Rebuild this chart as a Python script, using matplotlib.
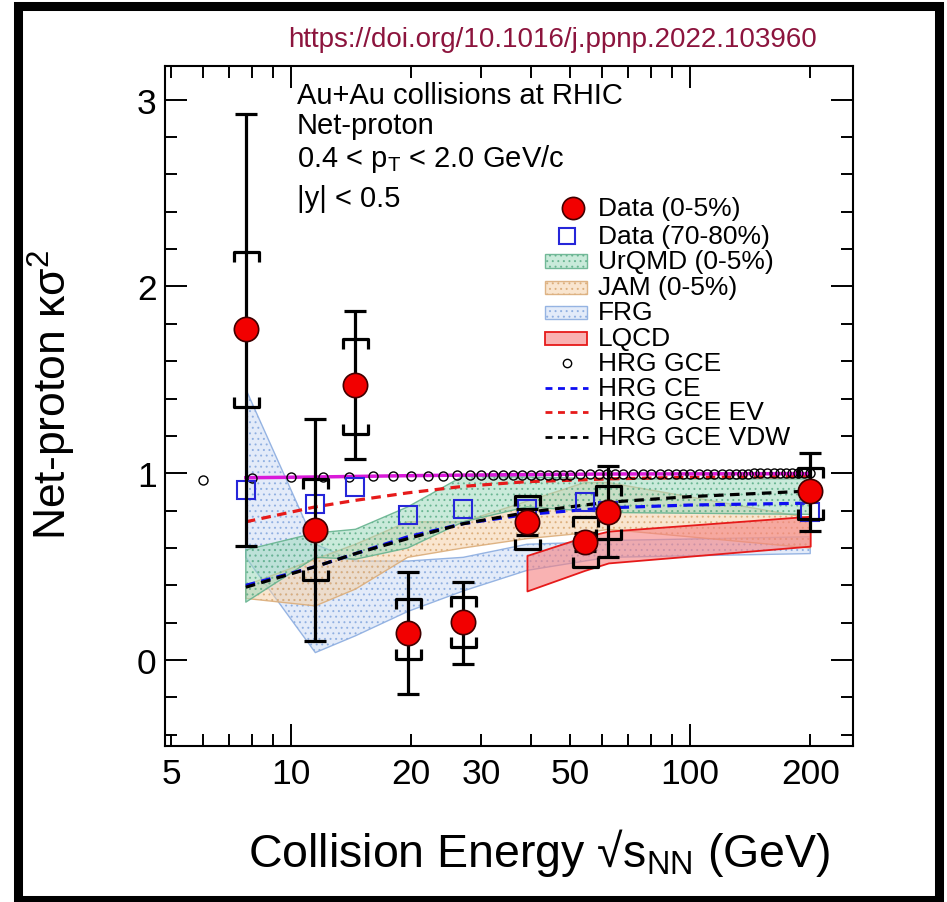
import matplotlib
matplotlib.use('Agg')
import matplotlib.pyplot as plt
from matplotlib.path import Path
from matplotlib.patches import Rectangle
from matplotlib.lines import Line2D
from matplotlib.ticker import FixedLocator, FuncFormatter

plt.rcParams['font.family'] = ['Liberation Sans', 'DejaVu Sans']
plt.rcParams['mathtext.fontset'] = 'custom'
plt.rcParams['mathtext.rm'] = 'Liberation Sans'
plt.rcParams['mathtext.it'] = 'Liberation Sans:italic'
plt.rcParams['mathtext.sf'] = 'Liberation Sans'
plt.rcParams['hatch.linewidth'] = 0.7

# ---------------- data ----------------
energy = [7.7, 11.5, 14.5, 19.6, 27, 39, 54.4, 62.4, 200]
central_val = [1.773, 0.696, 1.470, 0.145, 0.205, 0.740, 0.632, 0.790, 0.905]
stat_hi = [2.925, 1.290, 1.870, 0.470, 0.420, 0.810, 0.680, 1.040, 1.110]
stat_lo = [0.610, 0.100, 1.077, -0.180, -0.020, 0.670, 0.585, 0.550, 0.690]
sys_hi = [2.185, 0.970, 1.720, 0.327, 0.340, 0.880, 0.766, 0.930, 1.030]
sys_lo = [1.355, 0.430, 1.210, 0.005, 0.070, 0.595, 0.500, 0.650, 0.755]

periph_val = [0.910, 0.835, 0.926, 0.778, 0.810, 0.810, 0.846, 0.800, 0.790]

urqmd_E = [7.7, 11.5, 14.5, 19.6, 27, 39, 62.4, 200]
urqmd_hi = [0.59, 0.68, 0.70, 0.82, 0.985, 0.98, 0.97, 0.97]
urqmd_lo = [0.31, 0.55, 0.54, 0.60, 0.74, 0.82, 0.79, 0.78]

jam_E = [7.7, 11.5, 14.5, 19.6, 27, 39, 54.4, 62.4, 200]
jam_hi = [0.40, 0.54, 0.62, 0.74, 0.74, 0.85, 0.95, 0.95, 0.76]
jam_lo = [0.33, 0.29, 0.38, 0.55, 0.60, 0.65, 0.68, 0.70, 0.60]

frg_E = [7.7, 11.5, 14.5, 19.6, 27, 39, 54.4, 62.4, 200]
frg_hi = [1.45, 0.62, 0.53, 0.53, 0.55, 0.62, 0.63, 0.64, 0.66]
frg_lo = [0.55, 0.04, 0.13, 0.26, 0.37, 0.48, 0.53, 0.55, 0.57]

lqcd_E = [39, 54.4, 62.4, 200]
lqcd_hi = [0.56, 0.66, 0.69, 0.77]
lqcd_lo = [0.37, 0.48, 0.52, 0.61]

hrg_gce_E = [6, 8, 10, 12, 14, 16, 18, 20, 22, 24, 26, 28, 30, 32, 34, 36, 38, 40,
             42, 44, 46, 48, 50, 53, 56, 59, 62, 65, 68, 72, 76, 80, 84, 88, 92, 96,
             100, 105, 110, 115, 120, 125, 130, 135, 140, 145, 150, 156, 162, 168,
             174, 180, 186, 193, 200]
hrg_gce_val = [0.964, 0.976, 0.978, 0.980, 0.982, 0.983, 0.984, 0.985, 0.986, 0.987,
               0.988, 0.989, 0.989, 0.990, 0.990, 0.991, 0.991, 0.992, 0.992, 0.992,
               0.993, 0.993, 0.993, 0.994, 0.994, 0.994, 0.995, 0.995, 0.995, 0.996,
               0.996, 0.996, 0.996, 0.996, 0.997, 0.997, 0.997, 0.997, 0.997, 0.998,
               0.998, 0.998, 0.998, 0.998, 0.998, 0.999, 0.999, 0.999, 0.999, 0.999,
               0.999, 0.999, 0.999, 0.999, 1.000]

magenta_E = [7.7, 11.5, 14.5, 19.6, 27, 39, 62.4, 200]
magenta_val = [0.976, 0.980, 0.983, 0.987, 0.990, 0.993, 0.996, 0.998]

hrg_line_E = [7.7, 11.5, 14.5, 19.6, 27, 39, 54.4, 62.4, 100, 200]
hrg_ce_val = [0.40, 0.50, 0.57, 0.66, 0.73, 0.78, 0.805, 0.815, 0.83, 0.84]
hrg_ev_val = [0.74, 0.82, 0.855, 0.895, 0.93, 0.955, 0.965, 0.97, 0.978, 0.983]
hrg_vdw_val = [0.39, 0.50, 0.57, 0.65, 0.73, 0.79, 0.83, 0.845, 0.875, 0.905]

x_tick_labels = {5: '5', 10: '10', 20: '20', 30: '30', 50: '50', 100: '100', 200: '200'}
legend_labels = ['Data (0-5%)', 'Data (70-80%)', 'UrQMD (0-5%)', 'JAM (0-5%)', 'FRG',
                 'LQCD', 'HRG GCE', 'HRG CE', 'HRG GCE EV', 'HRG GCE VDW']

# ---------------- styles ----------------
W, H = 947, 903
fig = plt.figure(figsize=(W / 100, H / 100), dpi=100)
AX_L, AX_R, AX_T, AX_B = 165, 853, 67, 747
ax = fig.add_axes([AX_L / W, 1 - AX_B / H, (AX_R - AX_L) / W, (AX_B - AX_T) / H])
ax.set_xscale('log')
ax.set_xlim(4.83, 256)
ax.set_ylim(-0.46, 3.18)

urqmd_style = dict(facecolor=(0.62, 0.85, 0.74, 0.55), edgecolor=(0.40, 0.70, 0.56, 0.9), hatch='...')
jam_style = dict(facecolor=(0.96, 0.82, 0.66, 0.55), edgecolor=(0.86, 0.68, 0.48, 0.9), hatch='...')
frg_style = dict(facecolor=(0.82, 0.87, 0.96, 0.6), edgecolor=(0.55, 0.68, 0.88, 0.9), hatch='...')
lqcd_style = dict(facecolor=(0.96, 0.50, 0.50, 0.6), edgecolor=(0.90, 0.10, 0.10, 1.0))

ax.fill_between(frg_E, frg_lo, frg_hi, linewidth=1.0, zorder=1.0, **frg_style)
ax.fill_between(jam_E, jam_lo, jam_hi, linewidth=1.0, zorder=1.1, **jam_style)
ax.fill_between(urqmd_E, urqmd_lo, urqmd_hi, linewidth=1.0, zorder=1.2, **urqmd_style)
ax.fill_between(lqcd_E, lqcd_lo, lqcd_hi, linewidth=1.3, zorder=1.3, **lqcd_style)

dash = (0, (3, 2))
blue_c = (0.05, 0.05, 0.95)
red_c = (0.90, 0.10, 0.10)
ax.plot(hrg_line_E, hrg_ev_val, color=red_c, lw=2.3, ls=dash, zorder=3)
ax.plot(hrg_line_E, hrg_ce_val, color=blue_c, lw=2.3, ls=dash, zorder=3)
ax.plot(hrg_line_E, hrg_vdw_val, color='k', lw=2.3, ls=dash, zorder=3.1)

magenta_c = (0.85, 0.10, 0.85)
ax.plot(magenta_E, magenta_val, color=magenta_c, lw=2.5, zorder=3.5)
ax.plot(hrg_gce_E, hrg_gce_val, ls='none', marker='o', ms=6.5, mfc='none', mec='k',
        mew=1.0, zorder=3.6)

ax.plot(energy, periph_val, ls='none', marker='s', ms=13, mfc='none', mec=(0.15, 0.15, 0.85),
        mew=1.5, zorder=4)

yerr = [[v - lo for v, lo in zip(central_val, stat_lo)],
        [hi - v for v, hi in zip(central_val, stat_hi)]]
ax.errorbar(energy, central_val, yerr=yerr, fmt='none', ecolor='k', elinewidth=2.3,
            capsize=8, capthick=2.3, zorder=5)

up_br = Path([(-1, -0.8), (-1, 0), (1, 0), (1, -0.8)],
             [Path.MOVETO, Path.LINETO, Path.LINETO, Path.LINETO])
lo_br = Path([(-1, 0.8), (-1, 0), (1, 0), (1, 0.8)],
             [Path.MOVETO, Path.LINETO, Path.LINETO, Path.LINETO])
ax.plot(energy, sys_hi, ls='none', marker=up_br, ms=18, mfc='none', mec='k', mew=2.3, zorder=5)
ax.plot(energy, sys_lo, ls='none', marker=lo_br, ms=18, mfc='none', mec='k', mew=2.3, zorder=5)

red_face = (0.95, 0.0, 0.0)
ax.plot(energy, central_val, ls='none', marker='o', ms=17.5, mfc=red_face, mec=(0.25, 0, 0),
        mew=1.2, zorder=6)

# ---------------- axes ----------------
ax.xaxis.set_major_locator(FixedLocator([10, 100]))
ax.xaxis.set_minor_locator(FixedLocator([5, 6, 7, 8, 9, 20, 30, 40, 50, 60, 70, 80, 90, 200]))
fmt = FuncFormatter(lambda v, p: x_tick_labels.get(int(round(v)), '') if abs(v - round(v)) < 1e-6 else '')
ax.xaxis.set_major_formatter(fmt)
ax.xaxis.set_minor_formatter(fmt)
ax.yaxis.set_major_locator(FixedLocator([0, 1, 2, 3]))
ax.yaxis.set_minor_locator(FixedLocator([-0.4, -0.2, 0.2, 0.4, 0.6, 0.8, 1.2, 1.4, 1.6, 1.8,
                                         2.2, 2.4, 2.6, 2.8, 3.0]))
ax.yaxis.set_major_formatter(FuncFormatter(lambda v, p: '%d' % round(v)))
ax.tick_params(which='both', direction='in', top=True, right=True, width=1.4, labelsize=25.5)
ax.tick_params(which='major', length=16)
ax.tick_params(which='minor', length=8.5)
ax.tick_params(axis='x', which='both', pad=8)
ax.tick_params(axis='y', which='both', pad=6)
for s in ax.spines.values():
    s.set_linewidth(1.5)

fig.text(52 / W, 1 - 395 / H, 'Net-proton κσ$^{2}$', rotation=90, ha='center', va='center',
         fontsize=32)
fig.text(830 / W, 1 - 853 / H, r'Collision Energy √s$_{\mathrm{NN}}$ (GeV)',
         ha='right', va='center', fontsize=33.5)

fig.text(552 / W, 1 - 40 / H, 'https://doi.org/10.1016/j.ppnp.2022.103960', ha='center',
         va='center', fontsize=20, color=(0.55, 0.08, 0.24))

fig.text(297 / W, 1 - 104 / H, 'Au+Au collisions at RHIC', ha='left', va='baseline', fontsize=21)
fig.text(297 / W, 1 - 134 / H, 'Net-proton', ha='left', va='baseline', fontsize=21)
fig.text(297 / W, 1 - 167 / H, r'0.4 < p$_{\mathrm{T}}$ < 2.0 GeV/c', ha='left', va='baseline', fontsize=21)
fig.text(297 / W, 1 - 207 / H, '|y| < 0.5', ha='left', va='baseline', fontsize=21)

# ---------------- legend ----------------
def axfr(px, py):
    return ((px - AX_L) / (AX_R - AX_L), (AX_B - py) / (AX_B - AX_T))

rows = [209, 237, 262, 288, 313, 339, 364, 389, 413, 438]
for lab, ry in zip(legend_labels, rows):
    tx, ty = axfr(598, ry)
    ax.text(tx, ty, lab, transform=ax.transAxes, ha='left', va='center', fontsize=19, zorder=10)

def leg_marker(px, py, **kw):
    x, y = axfr(px, py)
    ax.add_line(Line2D([x], [y], transform=ax.transAxes, ls='none', clip_on=False, zorder=10, **kw))

def leg_rect(py, style, lw=1.0):
    x0, y0 = axfr(545, py + 6.5)
    ax.add_patch(Rectangle((x0, y0), 42 / (AX_R - AX_L), 13 / (AX_B - AX_T), transform=ax.transAxes,
                           linewidth=lw, zorder=10, **style))

def leg_dash(py, color):
    x0, y = axfr(545, py)
    x1, _ = axfr(588, py)
    ax.add_line(Line2D([x0, x1], [y, y], transform=ax.transAxes, color=color, lw=2.0, ls=(0, (2.5, 2)),
                       zorder=10))

leg_marker(573, rows[0], marker='o', ms=16, mfc=red_face, mec=(0.25, 0, 0), mew=1.2)
leg_marker(567, rows[1], marker='s', ms=12, mfc='none', mec=(0.15, 0.15, 0.85), mew=1.5)
leg_rect(rows[2], urqmd_style)
leg_rect(rows[3], jam_style)
leg_rect(rows[4], frg_style)
leg_rect(rows[5], lqcd_style, lw=1.3)
leg_marker(567, rows[6], marker='o', ms=6, mfc='none', mec='k', mew=1.0)
leg_dash(rows[7], blue_c)
leg_dash(rows[8], red_c)
leg_dash(rows[9], 'k')

# ---------------- outer frame ----------------
fig.patches.append(Rectangle((17.5 / W, 2 / H), (939 - 17.5) / W, (896.5 - 2) / H,
                             transform=fig.transFigure, fill=False, edgecolor='k',
                             linewidth=6.5, zorder=20))

fig.savefig('out.png', dpi=100)
